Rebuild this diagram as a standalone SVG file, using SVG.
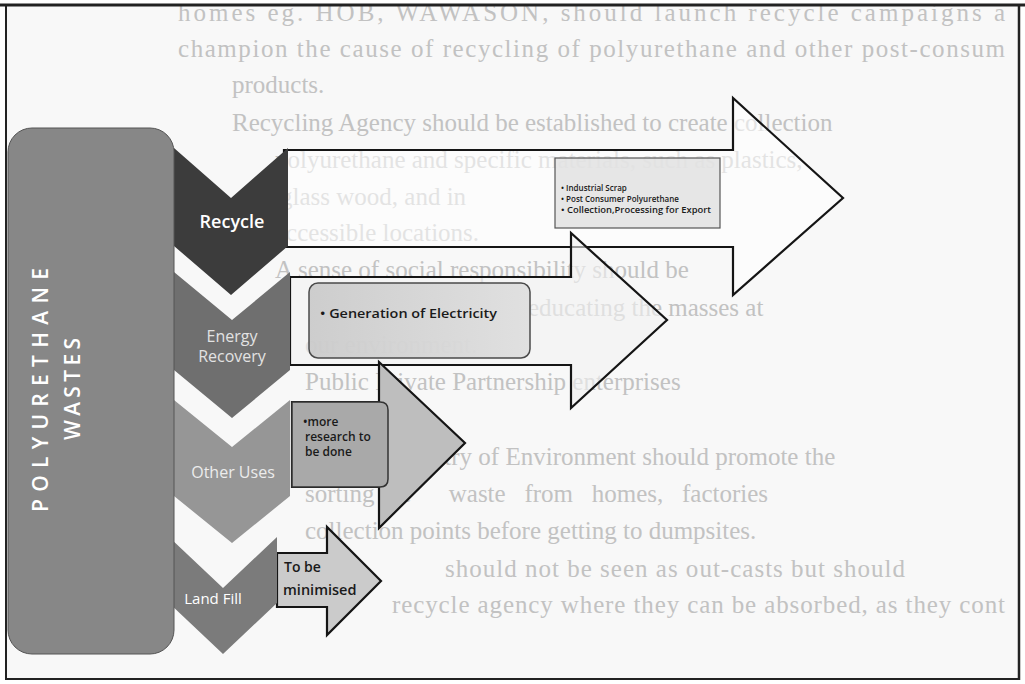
<svg xmlns="http://www.w3.org/2000/svg" width="1025" height="684" viewBox="0 0 1025 684">
<style>
.bg{font-family:"Liberation Serif",serif;font-size:25px;fill:#c2c2c2}
.arrow{stroke:#151515;stroke-width:2.2;stroke-linejoin:miter}
.chev{font-family:"Open Sans","Liberation Sans",sans-serif;text-anchor:middle}
.box{font-family:"Open Sans","Liberation Sans",sans-serif;fill:#1a1a1a;font-weight:600}
.vert{font-family:"Open Sans","Liberation Sans",sans-serif;font-size:21px;fill:#ffffff;font-weight:600;text-anchor:middle}
</style>
<defs>
<linearGradient id="g2" x1="0" y1="0" x2="1" y2="0">
<stop offset="0" stop-color="#c9c9c9"/><stop offset="1" stop-color="#dedede"/>
</linearGradient>
</defs>
<rect x="0" y="0" width="1025" height="684" fill="#ffffff"/>
<rect x="6" y="5" width="1013" height="674" fill="#f8f8f8"/>
<g id="page-text">
<text class="bg" x="178" y="21" textLength="827" lengthAdjust="spacing">homes eg. HOB, WAWASON, should launch recycle campaigns a</text>
<text class="bg" x="178" y="57" textLength="827" lengthAdjust="spacing">champion the cause of recycling of polyurethane and other post-consum</text>
<text class="bg" x="232" y="93">products.</text>
<text class="bg" x="232" y="131">Recycling Agency should be established to create collection</text>
<text class="bg" x="275" y="168">polyurethane and specific materials, such as plastics,</text>
<text class="bg" x="280" y="205">glass wood, and in</text>
<text class="bg" x="275" y="241">accessible locations.</text>
<text class="bg" x="275" y="278">A sense of social responsibility should be</text>
<text class="bg" x="528" y="316">educating the masses at</text>
<text class="bg" x="305" y="353">our environment.</text>
<text class="bg" x="305" y="390">Public Private Partnership enterprises</text>
<text class="bg" x="386" y="465">Ministry of Environment should promote the</text>
<text class="bg" x="305" y="502" xml:space="preserve">sorting the      waste   from   homes,   factories</text>
<text class="bg" x="305" y="539">collection points before getting to dumpsites.</text>
<text class="bg" x="445" y="577" textLength="460" lengthAdjust="spacing">should not be seen as out-casts but should</text>
<text class="bg" x="392" y="613" textLength="613" lengthAdjust="spacing">recycle agency where they can be absorbed, as they cont</text>
</g>
<g id="connectors">
<path class="arrow" d="M284,150 H733 V98 L843,198 L733,295 V247 H284 Z" fill="#ffffff" fill-opacity="0.55"/>
<path class="arrow" d="M290,277 H571 V233 L667,320 L571,408 V365 H290 Z" fill="#f2f2f2" fill-opacity="0.6"/>
<path class="arrow" d="M292,402 H379 V362 L465,443 L379,528 V487 H292 Z" fill="#bebebe"/>
<path class="arrow" d="M277,553 H327 V527 L381,581 L327,635 V607 H277 Z" fill="#cbcbcb"/>
</g>
<g id="box-recycle">
<rect x="555" y="158" width="165" height="70" fill="#e2e2e2" fill-opacity="0.85" stroke="#555" stroke-width="1.2"/>
<text class="box" x="561" y="191" font-size="8">• Industrial Scrap</text>
<text class="box" x="561" y="202" font-size="8">• Post Consumer Polyurethane</text>
<text class="box" x="561" y="213" font-size="8" textLength="150" lengthAdjust="spacingAndGlyphs">• Collection,Processing for Export</text>
</g>
<g id="box-energy">
<rect x="309" y="283" width="221" height="75" rx="9" fill="url(#g2)" fill-opacity="0.9" stroke="#4a4a4a" stroke-width="1.5"/>
<text class="box" x="320" y="318" font-size="13" font-weight="700" textLength="177" lengthAdjust="spacingAndGlyphs">• Generation of Electricity</text>
</g>
<g id="box-other">
<path d="M292,402 H380 Q388,402 388,410 V479 Q388,487 380,487 H292 Z" fill="#a9a9a9" stroke="#333" stroke-width="1.5"/>
<text class="box" x="303" y="426" font-size="12" font-weight="700">•more</text>
<text class="box" x="305" y="441" font-size="12" font-weight="700">research to</text>
<text class="box" x="305" y="456" font-size="12" font-weight="700">be done</text>
</g>
<g id="box-landfill">
<text class="box" x="284" y="572" font-size="14">To be</text>
<text class="box" x="283" y="595" font-size="14.5">minimised</text>
</g>
<g id="chevron-recycle">
<polygon points="174,148 231,198 288,148 288,246 231,295 174,246" fill="#3c3c3c"/>
<text class="chev" x="232" y="228" font-size="18" font-weight="600" fill="#ffffff">Recycle</text>
</g>
<g id="chevron-energy">
<polygon points="174,272 232,320 290,272 290,370 232,418 174,370" fill="#6f6f6f"/>
<text class="chev" x="232" y="342" font-size="16" fill="#e2e2e2">Energy</text>
<text class="chev" x="232" y="362" font-size="16" fill="#e2e2e2">Recovery</text>
</g>
<g id="chevron-other">
<polygon points="174,400 232,447 290,400 290,496 232,543 174,496" fill="#969696"/>
<text class="chev" x="233" y="478" font-size="16" fill="#ececec">Other Uses</text>
</g>
<g id="chevron-landfill">
<polygon points="169,537 223,588 277,537 277,603 223,654 169,603" fill="#7b7b7b"/>
<text class="chev" x="213" y="604" font-size="15" fill="#ffffff">Land Fill</text>
</g>
<g id="polyurethane-wastes">
<rect x="8" y="128" width="166" height="526" rx="24" fill="#878787" stroke="#555" stroke-width="1"/>
<text class="vert" transform="translate(48,390) rotate(-90)" textLength="244" lengthAdjust="spacing">POLYURETHANE</text>
<text class="vert" transform="translate(80,389) rotate(-90)" textLength="102" lengthAdjust="spacing">WASTES</text>
</g>
<g id="frame" stroke="#222" fill="none">
<line x1="0" y1="5" x2="1025" y2="5" stroke-width="3"/>
<line x1="6" y1="5" x2="6" y2="680" stroke-width="2"/>
<line x1="1019" y1="5" x2="1019" y2="680" stroke-width="2.5"/>
<line x1="6" y1="679" x2="1019" y2="679" stroke-width="2"/>
</g>
</svg>
